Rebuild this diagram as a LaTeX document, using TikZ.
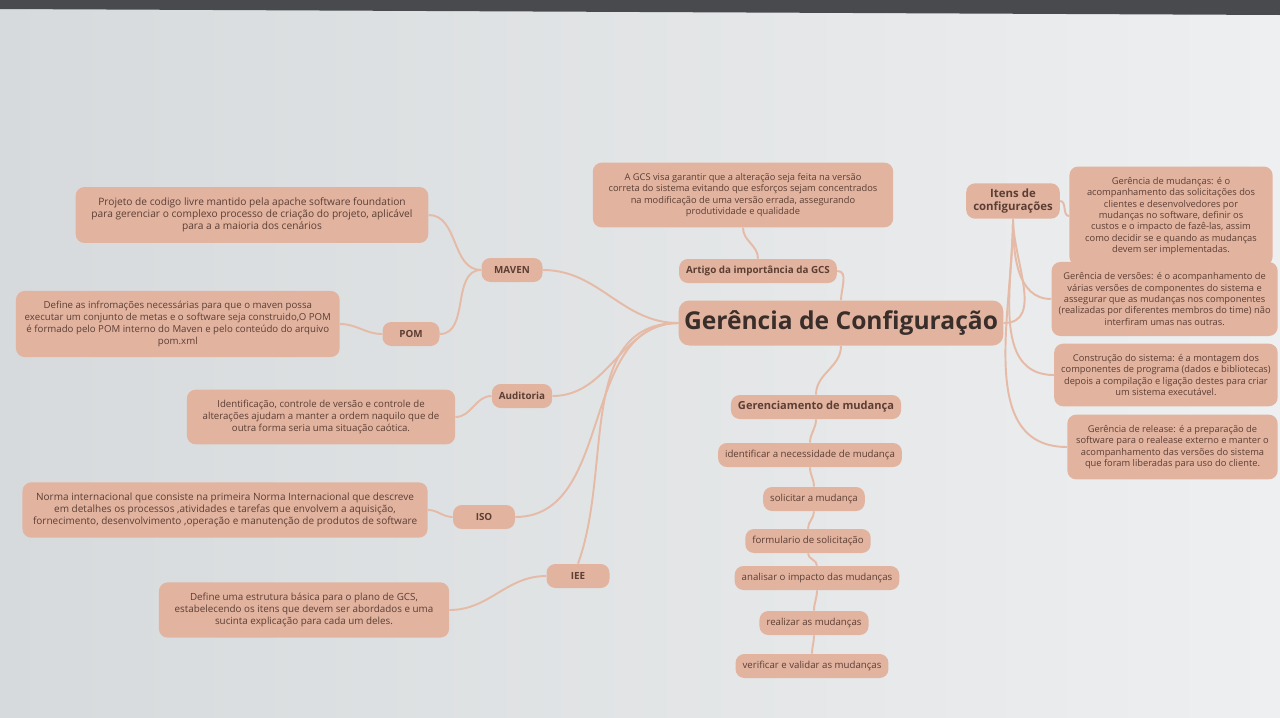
\documentclass[tikz,border=0pt]{standalone}
\usepackage{fontspec}
\setmainfont{Open Sans}
\usetikzlibrary{backgrounds}
\definecolor{paperleft}{RGB}{214,218,220}
\definecolor{paperright}{RGB}{238,239,240}
\definecolor{topband}{RGB}{72,74,78}
\definecolor{boxfill}{RGB}{226,180,160}
\definecolor{linkcol}{RGB}{229,186,166}
\definecolor{inkbrown}{RGB}{92,62,52}
\definecolor{titleink}{RGB}{58,46,42}

\newcommand{\smalltxt}{\fontsize{5.3}{6.5}\selectfont}
\newcommand{\largetxt}{\fontsize{5.7}{6.9}\selectfont}
\newcommand{\branchtxt}{\fontsize{5.6}{6.8}\selectfont\bfseries}

\begin{document}
\begin{tikzpicture}[x=0.02cm, y=0.02cm,
    desc/.style={fill=boxfill, rounded corners=5pt, align=center, text=inkbrown, font=\smalltxt, inner xsep=9pt, inner ysep=6pt},
    branch/.style={fill=boxfill, rounded corners=5pt, text=inkbrown, font=\branchtxt, minimum height=0.48cm, inner xsep=4pt},
    stepbox/.style={fill=boxfill, rounded corners=5pt, text=inkbrown, font=\fontsize{5.5}{6.6}\selectfont, minimum height=0.48cm, inner xsep=4pt},
    link/.style={draw=linkcol, line width=1.1pt}]

    \useasboundingbox (0,0) rectangle (1280,-717);
    \clip (0,0) rectangle (1280,-717);

    % paper
    \begin{scope}[on background layer]
        \shade[left color=paperleft, right color=paperright] (0,0) rectangle (1280,-717);
        \fill[topband] (0,0) -- (1280,0) -- (1280,-15) -- (0,-9) -- cycle;
    \end{scope}

    % Central topic
    \node[fill=boxfill, rounded corners=6pt, text=titleink, font=\fontsize{14}{16}\selectfont\bfseries, minimum height=0.9cm, inner xsep=3pt] at (841,-323) (central) {Gerência de Configuração};

    % Top: article
    \node[branch] at (758,-271) (artigo) {Artigo da importância da GCS};
    \node[desc] at (743,-195) (gcs) {A GCS visa garantir que a alteração seja feita na versão\\correta do sistema evitando que esforços sejam concentrados\\na modificação de uma versão errada, assegurando\\produtividade e qualidade};

    % Right: configuration items
    \node[branch, align=center, font=\fontsize{6.5}{7.6}\selectfont\bfseries, inner ysep=3pt] at (1013,-201) (itens) {Itens de\\configurações};
    \node[desc] at (1171,-216) (mudancas) {Gerência de mudanças: é o\\acompanhamento das solicitações dos\\clientes e desenvolvedores por\\mudanças no software, definir os\\custos e o impacto de fazê-las, assim\\como decidir se e quando as mudanças\\devem ser implementadas.};
    \node[desc, anchor=east, inner xsep=4pt] at (1278,-299) (versoes) {Gerência de versões: é o acompanhamento de\\várias versões de componentes do sistema e\\assegurar que as mudanças nos componentes\\(realizadas por diferentes membros do time) não\\interfiram umas nas outras.};
    \node[desc, anchor=east, inner xsep=4pt] at (1278,-375) (construcao) {Construção do sistema: é a montagem dos\\componentes de programa (dados e bibliotecas)\\depois a compilação e ligação destes para criar\\um sistema executável.};
    \node[desc, anchor=east, inner xsep=5pt] at (1278,-447) (release) {Gerência de release: é a preparação de\\software para o realease externo e manter o\\acompanhamento das versões do sistema\\que foram liberadas para uso do cliente.};

    % Bottom: change management steps
    \node[branch, font=\fontsize{6.3}{7.5}\selectfont\bfseries] at (816,-407) (gerenc) {Gerenciamento de mudança};
    \node[stepbox] at (810,-455) (ident) {identificar a necessidade de mudança};
    \node[stepbox] at (814,-499) (solic) {solicitar a mudança};
    \node[stepbox] at (808,-541) (form) {formulario de solicitação};
    \node[stepbox] at (817,-578) (anal) {analisar o impacto das mudanças};
    \node[stepbox] at (814,-623) (real) {realizar as mudanças};
    \node[stepbox] at (812,-666) (verif) {verificar e validar as mudanças};

    % Left: tools and norms
    \node[branch, minimum width=1.22cm] at (512,-270) (maven) {MAVEN};
    \node[desc, font=\fontsize{5.8}{7}\selectfont] at (252,-215) (mavendesc) {Projeto de codigo livre mantido pela apache software foundation\\para gerenciar o complexo processo de criação do projeto, aplicável\\para a a maioria dos cenários};
    \node[branch, minimum width=1.14cm] at (411,-334) (pom) {POM};
    \node[desc, anchor=east, font=\fontsize{5.5}{6.7}\selectfont, inner xsep=5pt] at (340,-324) (pomdesc) {Define as infromações necessárias para que o maven possa\\executar um conjunto de metas e o software seja construido,O POM\\é formado pelo POM interno do Maven e pelo conteúdo do arquivo\\pom.xml};
    \node[branch, minimum width=1.2cm] at (522,-396) (audit) {Auditoria};
    \node[desc, font=\fontsize{5.5}{6.8}\selectfont] at (321,-417) (auditdesc) {Identificação, controle de versão e controle de\\alterações ajudam a manter a ordem naquilo que de\\outra forma seria uma situação caótica.};
    \node[branch, minimum width=1.24cm] at (484,-517) (iso) {ISO};
    \node[desc, anchor=east, font=\largetxt, inner xsep=6pt] at (428,-510) (isodesc) {Norma internacional que consiste na primeira Norma Internacional que descreve\\em detalhes os processos ,atividades e tarefas que envolvem a aquisição,\\fornecimento, desenvolvimento ,operação e manutenção de produtos de software};
    \node[branch, minimum width=1.26cm] at (578,-576) (iee) {IEE};
    \node[desc, font=\fontsize{5.6}{6.9}\selectfont] at (304,-610) (ieedesc) {Define uma estrutura básica para o plano de GCS,\\estabelecendo os itens que devem ser abordados e uma\\sucinta explicação para cada um deles.};

    % connectors
    \begin{scope}[on background layer]
        \draw[link] (central.north) to[out=90,in=0] (artigo.east);
        \draw[link] (artigo.north) to[out=90,in=-90] (gcs.south);
        \draw[link] (central.east) to[out=0,in=-90] (itens.south);
        \draw[link] (itens.east) to[out=0,in=180] (mudancas.west);
        \draw[link] (itens.south) to[out=-90,in=180] (versoes.west);
        \draw[link] (itens.south) to[out=-90,in=180] (construcao.west);
        \draw[link] (itens.south) to[out=-90,in=180] (release.west);
        \draw[link] (central.south) to[out=-90,in=90] (gerenc.north);
        \draw[link] (gerenc) to[out=-90,in=90] (ident) to[out=-90,in=90] (solic) to[out=-90,in=90] (form)
            to[out=-90,in=90] (anal) to[out=-90,in=90] (real) to[out=-90,in=90] (verif);
        \draw[link] (central.west) to[out=180,in=0] (maven.east);
        \draw[link] (maven.west) to[out=180,in=0] (mavendesc.east);
        \draw[link] (maven.west) to[out=180,in=0] (pom.east);
        \draw[link] (pom.west) to[out=180,in=0] (pomdesc.east);
        \draw[link] (central.west) to[out=180,in=0] (audit.east);
        \draw[link] (audit.west) to[out=180,in=0] (auditdesc.east);
        \draw[link] (central.west) to[out=180,in=0] (iso.east);
        \draw[link] (iso.west) to[out=180,in=0] (isodesc.east);
        \draw[link] (central.west) to[out=180,in=70] (iee.north);
        \draw[link] (iee.west) to[out=180,in=0] (ieedesc.east);
    \end{scope}
\end{tikzpicture}
\end{document}
